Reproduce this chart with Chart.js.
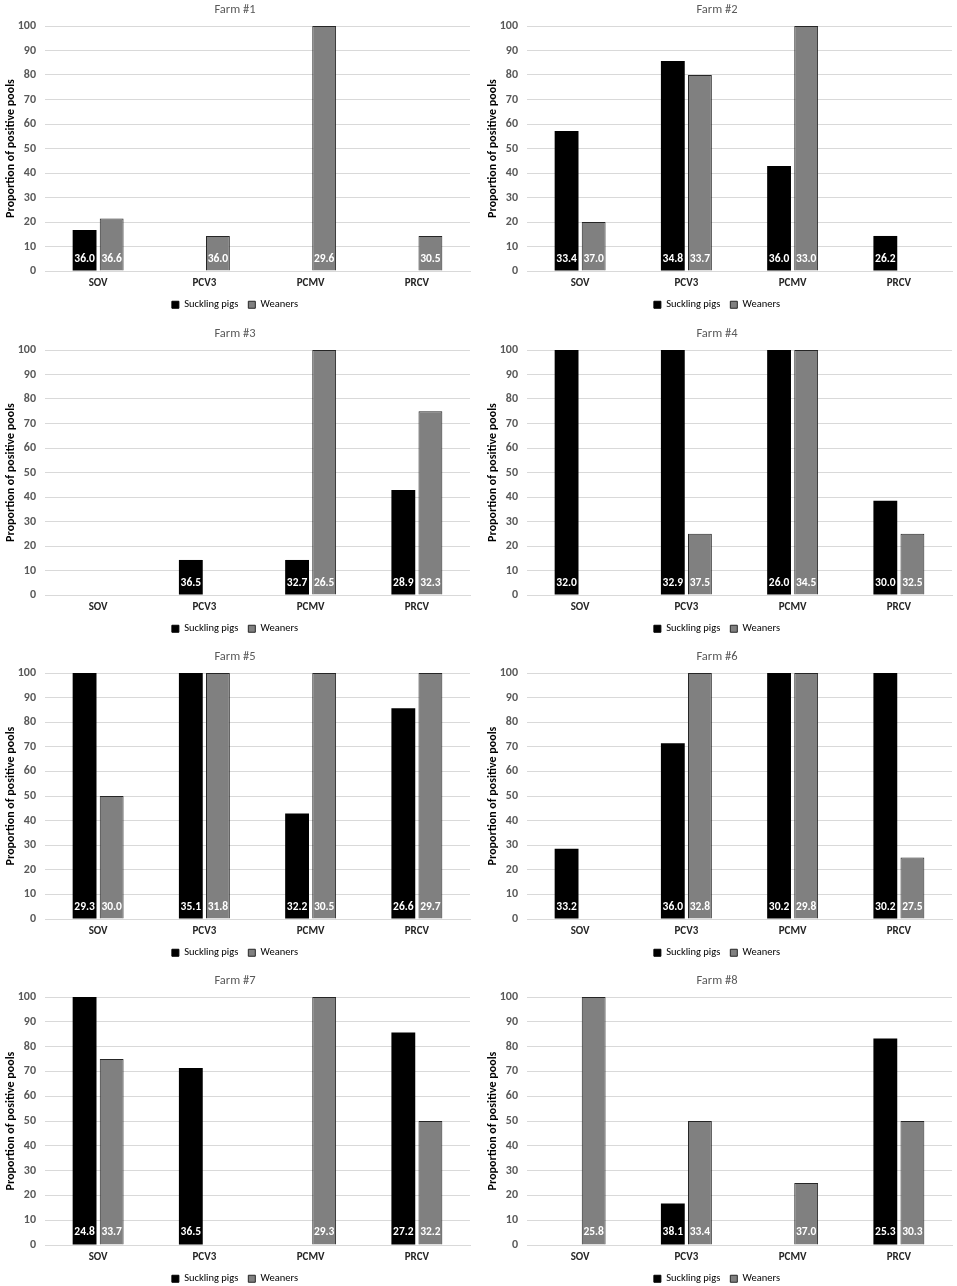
<!DOCTYPE html>
<html>
<head>
<meta charset="utf-8">
<script src="https://cdn.jsdelivr.net/npm/chart.js@4"></script>
<style>
html,body{margin:0;padding:0;background:#fff;overflow:hidden;width:957px;height:1286px;}
.pan{position:absolute;}
</style>
</head>
<body>
<script>
// ---- data ----
const categories = ['SOV', 'PCV3', 'PCMV', 'PRCV'];
const seriesNames = ['Suckling pigs', 'Weaners'];
const farmTitles = ['Farm #1','Farm #2','Farm #3','Farm #4','Farm #5','Farm #6','Farm #7','Farm #8'];
const yTicks = [0,10,20,30,40,50,60,70,80,90,100];

const farm1Suckling = [16.7, 0, 0, 0];
const farm1Weaners  = [21.4, 14.3, 100, 14.3];
const farm1SucklingLabels = ['36.0', null, null, null];
const farm1WeanersLabels  = ['36.6', '36.0', '29.6', '30.5'];

const farm2Suckling = [57.1, 85.7, 42.9, 14.3];
const farm2Weaners  = [20, 80, 100, 0];
const farm2SucklingLabels = ['33.4', '34.8', '36.0', '26.2'];
const farm2WeanersLabels  = ['37.0', '33.7', '33.0', null];

const farm3Suckling = [0, 14.3, 14.3, 42.9];
const farm3Weaners  = [0, 0, 100, 75];
const farm3SucklingLabels = [null, '36.5', '32.7', '28.9'];
const farm3WeanersLabels  = [null, null, '26.5', '32.3'];

const farm4Suckling = [100, 100, 100, 38.5];
const farm4Weaners  = [0, 25, 100, 25];
const farm4SucklingLabels = ['32.0', '32.9', '26.0', '30.0'];
const farm4WeanersLabels  = [null, '37.5', '34.5', '32.5'];

const farm5Suckling = [100, 100, 42.9, 85.7];
const farm5Weaners  = [50, 100, 100, 100];
const farm5SucklingLabels = ['29.3', '35.1', '32.2', '26.6'];
const farm5WeanersLabels  = ['30.0', '31.8', '30.5', '29.7'];

const farm6Suckling = [28.6, 71.4, 100, 100];
const farm6Weaners  = [0, 100, 100, 25];
const farm6SucklingLabels = ['33.2', '36.0', '30.2', '30.2'];
const farm6WeanersLabels  = [null, '32.8', '29.8', '27.5'];

const farm7Suckling = [100, 71.4, 0, 85.7];
const farm7Weaners  = [75, 0, 100, 50];
const farm7SucklingLabels = ['24.8', '36.5', null, '27.2'];
const farm7WeanersLabels  = ['33.7', null, '29.3', '32.2'];

const farm8Suckling = [0, 16.7, 0, 83.3];
const farm8Weaners  = [100, 50, 25, 50];
const farm8SucklingLabels = [null, '38.1', null, '25.3'];
const farm8WeanersLabels  = ['25.8', '33.4', '37.0', '30.3'];

const farms = [
  [farm1Suckling, farm1Weaners, farm1SucklingLabels, farm1WeanersLabels],
  [farm2Suckling, farm2Weaners, farm2SucklingLabels, farm2WeanersLabels],
  [farm3Suckling, farm3Weaners, farm3SucklingLabels, farm3WeanersLabels],
  [farm4Suckling, farm4Weaners, farm4SucklingLabels, farm4WeanersLabels],
  [farm5Suckling, farm5Weaners, farm5SucklingLabels, farm5WeanersLabels],
  [farm6Suckling, farm6Weaners, farm6SucklingLabels, farm6WeanersLabels],
  [farm7Suckling, farm7Weaners, farm7SucklingLabels, farm7WeanersLabels],
  [farm8Suckling, farm8Weaners, farm8SucklingLabels, farm8WeanersLabels]
];

// ---- layout ----
const FONT = 'Carlito, Lato, sans-serif';
const cols = [{left:-12, width:490, padL:12, padR:8}, {left:470, width:487, padL:12, padR:5}];
const rows = [{top:0, h:320}, {top:324, h:320}, {top:647, h:321}, {top:971, h:323}];

const barLabelPlugin = {
  id: 'barLabels',
  afterDatasetsDraw(chart) {
    const ctx = chart.ctx;
    const y = chart.scales.y.getPixelForValue(5);
    ctx.save();
    ctx.fillStyle = '#ffffff';
    ctx.font = 'bold 11.5px ' + FONT;
    ctx.textAlign = 'center';
    ctx.textBaseline = 'middle';
    chart.data.datasets.forEach((ds, di) => {
      const meta = chart.getDatasetMeta(di);
      meta.data.forEach((el, i) => {
        const t = ds.valueLabels[i];
        if (t) ctx.fillText(t, el.x, y);
      });
    });
    ctx.restore();
  }
};

farms.forEach((f, idx) => {
  const c = cols[idx % 2], r = rows[Math.floor(idx / 2)];
  const div = document.createElement('div');
  div.className = 'pan';
  div.style.left = c.left + 'px';
  div.style.top = r.top + 'px';
  div.style.width = c.width + 'px';
  div.style.height = r.h + 'px';
  const cv = document.createElement('canvas');
  div.appendChild(cv);
  document.body.appendChild(div);

  new Chart(cv, {
    type: 'bar',
    data: {
      labels: categories,
      datasets: [
        {label: seriesNames[0], data: f[0], valueLabels: f[2], backgroundColor: '#000000', borderColor: '#000000',
         borderWidth: 0, categoryPercentage: 0.51, barPercentage: 0.88},
        {label: seriesNames[1], data: f[1], valueLabels: f[3], backgroundColor: '#808080', borderColor: '#262626',
         borderWidth: (ctx) => (ctx.raw > 0 ? 1 : 0), categoryPercentage: 0.51, barPercentage: 0.88}
      ]
    },
    options: {
      responsive: true,
      maintainAspectRatio: false,
      animation: false,
      devicePixelRatio: 1,
      layout: {padding: {left: c.padL, right: c.padR, top: 0, bottom: 0}},
      plugins: {
        title: {display: true, text: farmTitles[idx], color: '#595959',
                font: {family: FONT, size: 12.5, weight: 'normal'}, padding: {top: 2.5, bottom: 8.5}},
        legend: {position: 'bottom',
                 labels: {color: '#404040', font: {family: FONT, size: 10.5}, boxWidth: 7, boxHeight: 7, padding: 10,
                          generateLabels: (chart) => chart.data.datasets.map((ds, i) => ({
                            text: ds.label, fillStyle: ds.backgroundColor, strokeStyle: i === 1 ? '#262626' : '#000000',
                            lineWidth: 1, datasetIndex: i, hidden: false
                          }))}},
        tooltip: {enabled: false}
      },
      scales: {
        x: {
          grid: {display: false, drawTicks: false},
          border: {display: true, color: '#d9d9d9', width: 1},
          ticks: {color: '#262626', font: {family: FONT, size: 11, weight: 'bold'}, padding: 6},
          afterFit: (s) => { s.height = 18.5; }
        },
        y: {
          min: 0, max: 100,
          afterBuildTicks: (s) => { s.ticks = yTicks.map(v => ({value: v})); },
          grid: {color: '#d9d9d9', lineWidth: 1, drawTicks: false},
          border: {display: false},
          ticks: {color: '#595959', font: {family: FONT, size: 12, weight: 'bold'}, padding: 9},
          title: {display: true, text: 'Proportion of positive pools', color: '#000000',
                  font: {family: FONT, size: 12, weight: 'bold'}, padding: {top: 4, bottom: 4}},
          afterFit: (s) => { s.width = 45; }
        }
      }
    },
    plugins: [barLabelPlugin]
  });
});
</script>
</body>
</html>
